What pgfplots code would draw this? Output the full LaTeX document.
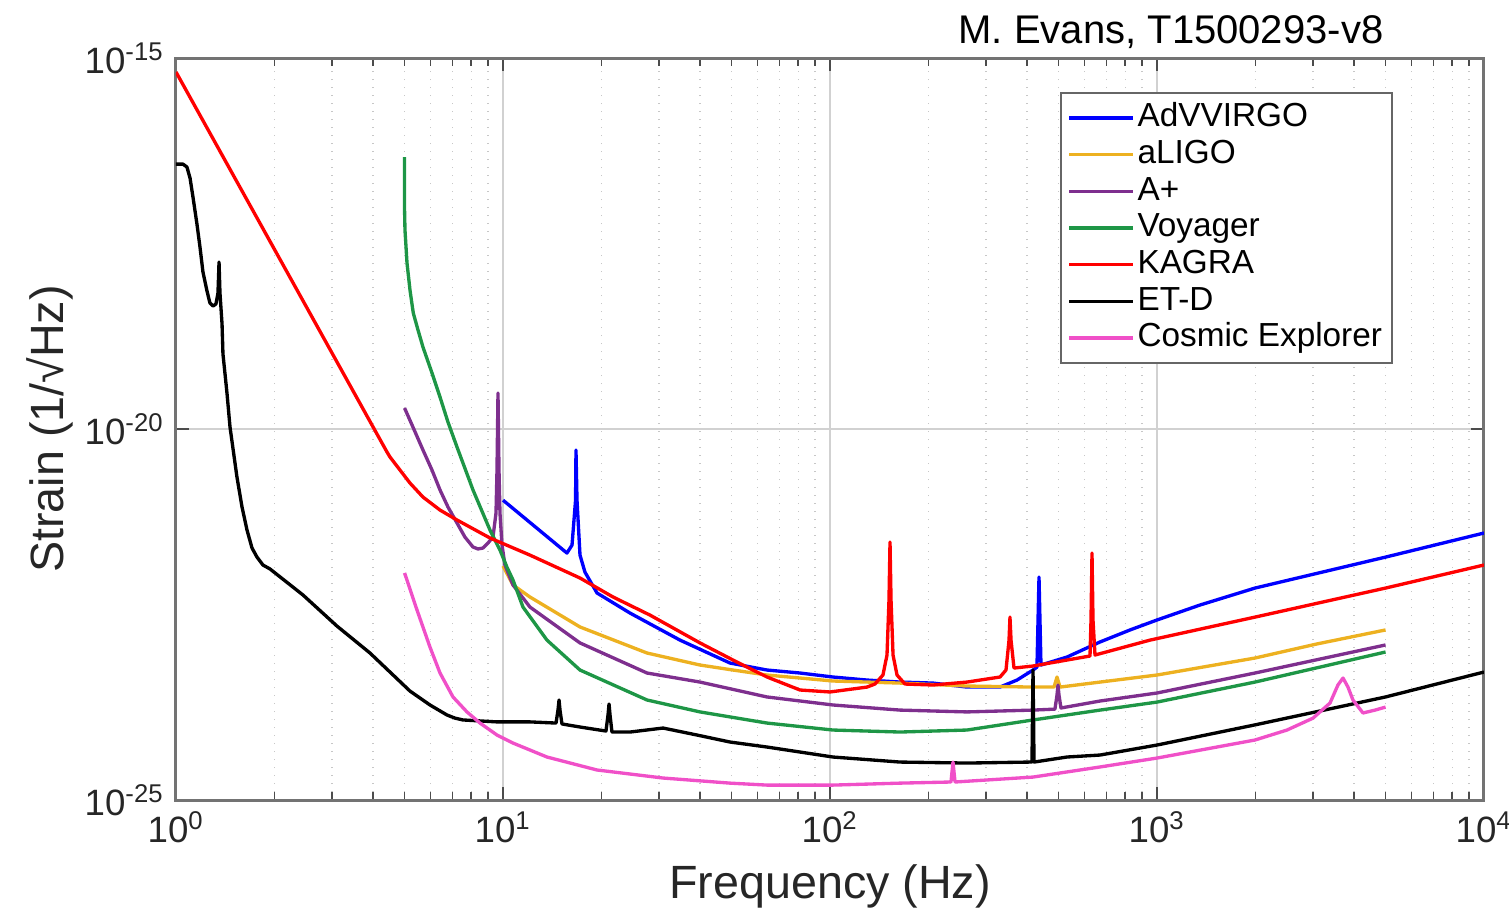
\documentclass[border=0pt]{standalone}
\usepackage{fontspec}
\setmainfont{Liberation Sans}
\usepackage{pgfplots}
\pgfplotsset{compat=1.18}

\definecolor{cvirgo}{RGB}{0,0,255}
\definecolor{caligo}{RGB}{237,177,32}
\definecolor{caplus}{RGB}{126,47,142}
\definecolor{cvoyager}{RGB}{30,150,70}
\definecolor{ckagra}{RGB}{255,0,0}
\definecolor{cetd}{RGB}{0,0,0}
\definecolor{cce}{RGB}{240,80,200}

\begin{document}
\begin{tikzpicture}
  \begin{axis}[
    name=ax, scale only axis, width=392.4pt, height=222.6pt,
    xmode=log, ymode=log,
    xmin=1, xmax=1e4, ymin=1e-25, ymax=1e-15,
    xtick={1,10,100,1000,10000},
    xticklabels={10\textsuperscript{0},10\textsuperscript{1},10\textsuperscript{2},10\textsuperscript{3},10\textsuperscript{4}},
    ytick={1e-25,1e-20,1e-15},
    yticklabels={10\textsuperscript{-25},10\textsuperscript{-20},10\textsuperscript{-15}},
    yminorticks=false,
    xmajorgrids=true, xminorgrids=true, ymajorgrids=true,
    major grid style={black!18},
    minor grid style={black!22, dotted},
    tick align=inside,
    axis line style={black!55, line width=0.9pt},
    major tick length=4pt, minor tick length=2.5pt,
    every tick/.style={black!70, line width=0.5pt},
    tick label style={font=\fontsize{11}{13}\selectfont, text=black!85},
    xlabel={Frequency (Hz)},
    ylabel={Strain (1/√Hz)},
    label style={font=\fontsize{14}{16}\selectfont, text=black!85},
    xlabel style={at={(axis description cs:0.5,-0.117)}, anchor=center},
    ylabel style={at={(axis description cs:-0.0963,0.5)}, anchor=center},
    legend style={at={(0.676,0.954)}, anchor=north west, draw=black!60,
      fill=white, font=\fontsize{10}{11}\selectfont, inner sep=2pt,
      row sep=0pt, nodes={inner sep=1pt, text height=7.2pt, text depth=1.8pt}},
    legend cell align=left,
    legend image code/.code={\draw[#1, line width=1pt] (0pt,0pt) -- (19pt,0pt);},
    every axis plot/.append style={line width=1pt, line join=round, mark=none},
  ]

  % AdVVIRGO
  \addplot[cvirgo] coordinates {(10,1.10e-21)(15.69,2.13e-22)(16.26,2.73e-22)(16.67,1.10e-21)(16.72,5.21e-21)(16.84,1.10e-21)(17.20,2.00e-22)(17.81,1.18e-22)(19.39,6.17e-23)(24.46,3.31e-23)(34.78,1.43e-23)(49.46,7.02e-24)(64.18,5.65e-24)(80.96,5.15e-24)(102.1,4.55e-24)(129.8,4.14e-24)(163.8,3.89e-24)(206.5,3.77e-24)(262.4,3.33e-24)(331.1,3.33e-24)(373.2,4.14e-24)(417.7,5.65e-24)(429.5,6.19e-24)(435.7,1.01e-22)(441.8,6.60e-24)(530.7,8.46e-24)(669.6,1.35e-23)(826.9,1.96e-23)(1000,2.67e-23)(1354,4.25e-23)(1994,7.19e-23)(5000,1.88e-22)(10000,3.97e-22)};
  \addlegendentry{AdVVIRGO}

  % aLIGO
  \addplot[caligo] coordinates {(10,1.43e-22)(10.73,7.91e-23)(12.09,5.45e-23)(17.20,2.15e-23)(27.57,9.58e-24)(40.04,6.60e-24)(50.51,5.65e-24)(64.18,4.84e-24)(102.1,4.02e-24)(163.8,3.77e-24)(262.4,3.44e-24)(417.7,3.33e-24)(484.2,3.33e-24)(494.6,4.55e-24)(505.1,3.33e-24)(669.6,3.89e-24)(1000,4.84e-24)(1994,8.20e-24)(3085,1.27e-23)(5000,1.96e-23)};
  \addlegendentry{aLIGO}

  % A+
  \addplot[caplus] coordinates {(5,1.92e-20)(5.306,1.06e-20)(5.693,5.21e-21)(6.066,2.80e-21)(6.418,1.51e-21)(6.789,8.89e-22)(7.235,5.41e-22)(7.65,3.50e-22)(8.096,2.57e-22)(8.385,2.42e-22)(8.687,2.49e-22)(8.999,2.91e-22)(9.32,3.50e-22)(9.52,7.38e-22)(9.587,2.80e-21)(9.654,3.05e-20)(9.723,2.80e-21)(9.79,7.38e-22)(9.93,2.73e-22)(10.14,1.47e-22)(10.73,7.91e-23)(12.09,3.99e-23)(17.20,1.31e-23)(27.57,5.15e-24)(40.04,3.89e-24)(64.18,2.45e-24)(102.1,1.91e-24)(163.8,1.63e-24)(262.4,1.54e-24)(417.7,1.63e-24)(487.5,1.68e-24)(494.6,2.60e-24)(498,3.55e-24)(501.5,2.60e-24)(508.6,1.74e-24)(669.6,2.16e-24)(1000,2.77e-24)(1994,5.15e-24)(5000,1.23e-23)};
  \addlegendentry{A+}

  % Voyager
  \addplot[cvoyager] coordinates {(5,4.63e-17)(5,8.93e-18)(5.015,4.81e-18)(5.087,1.73e-18)(5.195,7.47e-19)(5.317,3.66e-19)(5.497,2.16e-19)(5.693,1.27e-19)(6.066,5.69e-20)(6.418,2.70e-20)(6.789,1.24e-20)(7.235,5.71e-21)(8.096,1.51e-21)(9.125,4.35e-22)(9.79,2.34e-22)(10.28,1.38e-22)(10.73,9.23e-23)(11.51,3.99e-23)(13.63,1.43e-23)(17.20,5.65e-24)(27.57,2.23e-24)(40.04,1.54e-24)(64.18,1.09e-24)(102.1,8.78e-25)(163.8,8.25e-25)(262.4,8.78e-25)(417.7,1.20e-24)(669.6,1.63e-24)(1000,2.09e-24)(1994,3.89e-24)(5000,9.89e-24)};
  \addlegendentry{Voyager}

  % KAGRA
  \addplot[ckagra] coordinates {(1,6.48e-16)(4.418,4.90e-21)(4.512,4.20e-21)(4.842,2.80e-21)(5.195,1.87e-21)(5.693,1.21e-21)(6.418,8.09e-22)(7.235,5.94e-22)(9.125,3.40e-22)(12.09,2.00e-22)(17.20,9.82e-23)(21.70,5.45e-23)(28.15,3.11e-23)(40.04,1.31e-23)(50.51,7.71e-24)(64.18,4.55e-24)(80.96,3.04e-24)(100,2.86e-24)(129.8,3.33e-24)(137.2,3.66e-24)(145.2,4.84e-24)(149.4,9.00e-24)(151.5,4.95e-23)(152.6,3.00e-22)(153.7,4.95e-23)(155.9,9.00e-24)(160.3,4.84e-24)(169.6,3.66e-24)(206.5,3.55e-24)(262.4,3.89e-24)(331.1,4.55e-24)(345.4,5.65e-24)(352.8,1.43e-23)(355.2,2.92e-23)(357.8,1.43e-23)(365.4,6.01e-24)(417.7,6.40e-24)(530.7,7.71e-24)(624,8.73e-24)(628.4,2.67e-23)(632.8,2.13e-22)(637.3,2.67e-23)(646.3,9.00e-24)(952,1.43e-23)(1994,2.92e-23)(5000,7.19e-23)(10000,1.47e-22)};
  \addlegendentry{KAGRA}

  % ET-D
  \addplot[cetd] coordinates {(1,3.72e-17)(1.05,3.72e-17)(1.08,3.40e-17)(1.104,2.41e-17)(1.127,1.34e-17)(1.159,5.79e-18)(1.184,2.84e-18)(1.209,1.31e-18)(1.244,7.24e-19)(1.270,4.99e-19)(1.298,4.55e-19)(1.325,4.84e-19)(1.344,6.81e-19)(1.354,1.78e-18)(1.363,6.81e-19)(1.383,2.60e-19)(1.392,1.03e-19)(1.432,3.05e-20)(1.463,1.06e-20)(1.536,2.26e-21)(1.592,8.89e-22)(1.649,4.35e-22)(1.708,2.49e-22)(1.769,1.88e-22)(1.845,1.47e-22)(1.939,1.30e-22)(2.445,5.80e-23)(3.107,2.21e-23)(3.92,9.58e-24)(5.195,2.94e-24)(5.981,1.91e-24)(6.742,1.40e-24)(7.133,1.27e-24)(7.546,1.20e-24)(9.587,1.13e-24)(12.09,1.13e-24)(14.53,1.09e-24)(14.73,1.63e-24)(14.84,2.23e-24)(14.94,1.63e-24)(15.15,1.06e-24)(17.20,9.64e-25)(20.65,8.51e-25)(20.95,1.40e-24)(21.10,1.97e-24)(21.25,1.40e-24)(21.54,8.25e-25)(24.46,8.25e-25)(30.86,9.34e-25)(39.20,7.52e-25)(49.46,6.05e-25)(64.18,5.18e-25)(102.1,3.80e-25)(163.8,3.25e-25)(262.4,3.15e-25)(408.9,3.25e-25)(414.7,3.25e-25)(417.7,5.65e-24)(420.7,3.25e-25)(530.7,3.80e-25)(669.6,4.04e-25)(1000,5.51e-25)(1994,1.03e-24)(5000,2.45e-24)(10000,5.31e-24)};
  \addlegendentry{ET-D}

  % Cosmic Explorer
  \addplot[cce] coordinates {(5,1.15e-22)(5.458,3.64e-23)(5.981,1.15e-23)(6.418,5.15e-24)(7.033,2.45e-24)(7.76,1.54e-24)(8.505,1.09e-24)(9.587,7.52e-25)(10.73,5.86e-25)(13.63,3.80e-25)(19.39,2.54e-25)(30.86,1.98e-25)(49.46,1.69e-25)(64.18,1.59e-25)(102.1,1.59e-25)(163.8,1.69e-25)(234.4,1.75e-25)(237.8,3.25e-25)(241.2,1.75e-25)(417.7,2.04e-25)(669.6,2.79e-25)(1000,3.68e-25)(1994,6.44e-25)(2498,8.78e-25)(3000,1.27e-24)(3382,2.03e-24)(3576,3.55e-24)(3706,4.41e-24)(3838,3.33e-24)(3975,2.23e-24)(4266,1.49e-24)(4643,1.63e-24)(5000,1.79e-24)};
  \addlegendentry{Cosmic Explorer}

  \end{axis}
  \node[font=\fontsize{12}{14}\selectfont, anchor=center]
    at ([xshift=298.5pt,yshift=7.8pt]ax.north west) {M. Evans, T1500293-v8};
  \pgfresetboundingbox
  \path[use as bounding box] ([xshift=-52.8pt,yshift=-34.2pt]ax.south west)
    rectangle ([xshift=7.5pt,yshift=17.4pt]ax.north east);
\end{tikzpicture}
\end{document}
